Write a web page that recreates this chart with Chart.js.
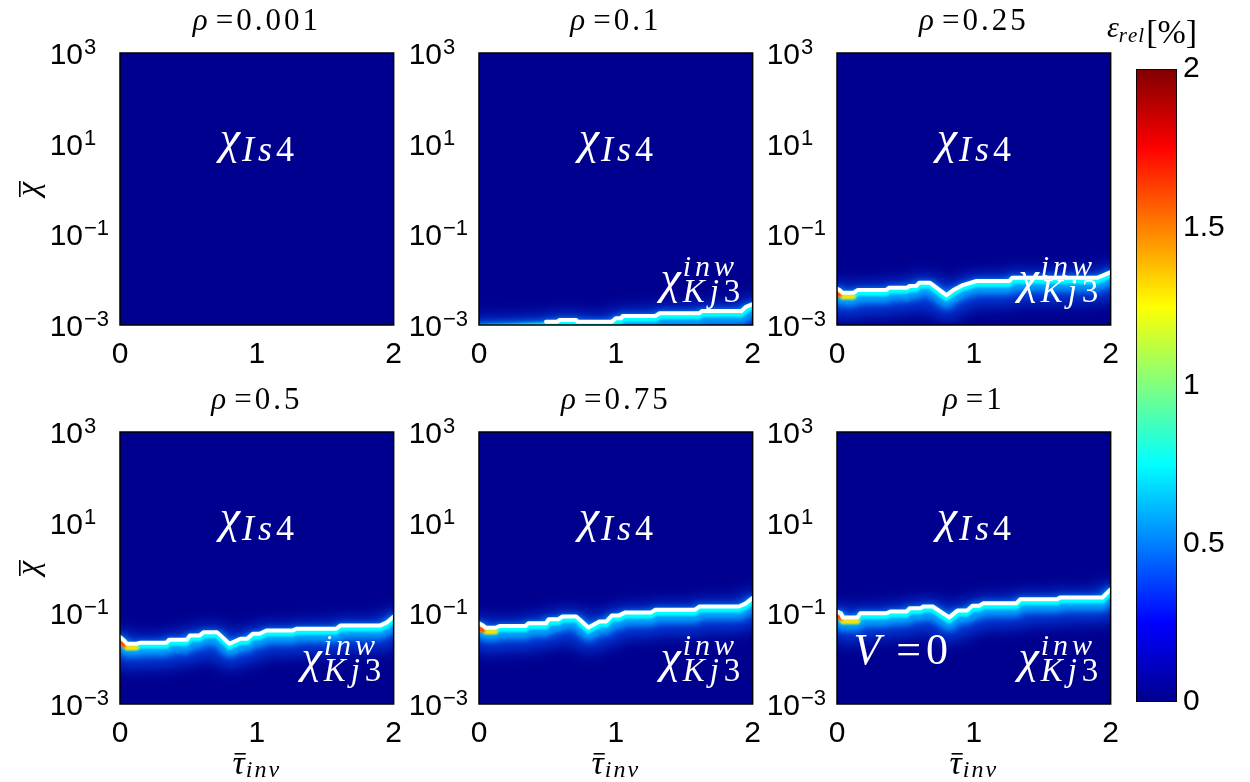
<!DOCTYPE html>
<html>
<head>
<meta charset="utf-8">
<script src="https://cdn.jsdelivr.net/npm/chart.js@4.4.1/dist/chart.umd.min.js"></script>
<style>
  html, body { margin: 0; padding: 0; background: #fff; width: 1250px; height: 782px; overflow: hidden; }
  canvas { position: absolute; }
</style>
</head>
<body>
<script>
// values
const rhoTitles = ["0.001", "0.1", "0.25", "0.5", "0.75", "1"];
const tauTicks = [0, 1, 2];
const chiTickExps = [3, 1, -1, -3];
const errTicks = [0, 0.5, 1, 1.5, 2];

// white boundary line of each panel: tau and log10(chi)
const rho01Tau = [0.49, 0.57, 0.59, 0.71, 0.72, 0.97, 1.00, 1.04, 1.05, 1.29, 1.32, 1.61, 1.63, 1.92, 1.95, 2.0];
const rho01LogChi = [-2.93, -2.93, -2.89, -2.89, -2.93, -2.93, -2.85, -2.85, -2.80, -2.80, -2.74, -2.74, -2.69, -2.69, -2.60, -2.54];
const rho01GlowTau = [0, 0.25, 0.49];
const rho01GlowLogChi = [-3.0, -2.98, -2.95];

const rho025Tau = [0.0, 0.02, 0.04, 0.12, 0.15, 0.36, 0.38, 0.51, 0.53, 0.58, 0.60, 0.68, 0.80, 0.85, 0.92, 1.02, 1.26, 1.28, 1.90, 1.95, 2.0];
const rho025LogChi = [-2.20, -2.23, -2.29, -2.29, -2.23, -2.23, -2.18, -2.18, -2.14, -2.14, -2.07, -2.07, -2.34, -2.23, -2.12, -2.03, -2.03, -1.96, -1.96, -1.90, -1.83];

const rho05Tau = [0.0, 0.03, 0.05, 0.12, 0.15, 0.34, 0.36, 0.49, 0.51, 0.58, 0.61, 0.71, 0.80, 0.88, 0.93, 0.97, 1.02, 1.07, 1.26, 1.29, 1.58, 1.61, 1.90, 1.95, 2.0];
const rho05LogChi = [-1.52, -1.60, -1.67, -1.67, -1.65, -1.65, -1.58, -1.58, -1.49, -1.49, -1.42, -1.42, -1.67, -1.56, -1.56, -1.45, -1.45, -1.38, -1.38, -1.34, -1.34, -1.27, -1.27, -1.20, -1.07];

const rho075Tau = [0.0, 0.03, 0.05, 0.12, 0.15, 0.34, 0.36, 0.49, 0.51, 0.58, 0.61, 0.71, 0.80, 0.88, 0.93, 0.97, 1.02, 1.07, 1.26, 1.29, 1.58, 1.61, 1.90, 1.95, 2.0];
const rho075LogChi = [-1.22, -1.27, -1.32, -1.32, -1.28, -1.28, -1.22, -1.22, -1.13, -1.13, -1.07, -1.07, -1.31, -1.18, -1.18, -1.05, -1.05, -0.98, -0.98, -0.92, -0.92, -0.85, -0.85, -0.78, -0.66];

const rho1Tau = [0.0, 0.03, 0.04, 0.15, 0.17, 0.36, 0.39, 0.51, 0.53, 0.61, 0.63, 0.70, 0.82, 0.88, 0.95, 0.99, 1.04, 1.07, 1.31, 1.34, 1.61, 1.63, 1.94, 2.0];
const rho1LogChi = [-0.96, -1.00, -1.09, -1.09, -1.00, -1.00, -0.96, -0.96, -0.89, -0.89, -0.85, -0.85, -1.09, -0.94, -0.94, -0.83, -0.83, -0.78, -0.78, -0.69, -0.69, -0.65, -0.65, -0.47];

const SERIF = '"Liberation Serif", "DejaVu Serif", serif';
const SANS = '"Liberation Sans", Arial, sans-serif';
const NAVY = "rgb(0,0,143)";

const panelLefts = [120, 479, 837];
const panelTops = [53, 432];
const PW = 274, PH = 272;
const ML = 120, MT = 53, MR = 20, MB = 80;

const panels = [
  { col: 0, row: 0, tau: null },
  { col: 1, row: 0, tau: rho01Tau, lg: rho01LogChi, glowTau: rho01GlowTau.concat(rho01Tau), glowLg: rho01GlowLogChi.concat(rho01LogChi), hot: 0 },
  { col: 2, row: 0, tau: rho025Tau, lg: rho025LogChi, hot: 4 },
  { col: 0, row: 1, tau: rho05Tau, lg: rho05LogChi, hot: 4 },
  { col: 1, row: 1, tau: rho075Tau, lg: rho075LogChi, hot: 4 },
  { col: 2, row: 1, tau: rho1Tau, lg: rho1LogChi, hot: 4, vLabel: true }
];

// ---- text helpers (mixed fonts, sub/superscripts) ----
function setFont(ctx, r) {
  ctx.font = (r.it ? "italic " : "") + r.size + "px " + (r.fam || SERIF);
}
function runWidth(ctx, r) {
  setFont(ctx, r);
  let w = 0;
  for (const ch of r.t) w += ctx.measureText(ch).width + (r.ls || 0);
  return w + (r.gap || 0);
}
function drawRun(ctx, r, x, y) {
  setFont(ctx, r);
  for (const ch of r.t) {
    ctx.fillText(ch, x, y + (r.dy || 0));
    x += ctx.measureText(ch).width + (r.ls || 0);
  }
  return x + (r.gap || 0);
}
function runsWidth(ctx, runs) {
  return runs.reduce((s, r) => s + runWidth(ctx, r), 0);
}
function drawRuns(ctx, runs, x, y, align) {
  const w = runsWidth(ctx, runs);
  let cx = align === "center" ? x - w / 2 : align === "right" ? x - w : x;
  ctx.textAlign = "left";
  ctx.textBaseline = "alphabetic";
  runs.forEach(r => { cx = drawRun(ctx, r, cx, y); });
  return w;
}

function pts(tau, lg) {
  return tau.map((t, i) => ({ x: t, y: Math.pow(10, lg[i]) }));
}

function makeDatasets(p) {
  if (!p.tau) return [];
  const line = pts(p.tau, p.lg);
  const glow = p.glowTau ? pts(p.glowTau, p.glowLg) : line;
  const base = { pointRadius: 0, tension: 0, clip: 0, fill: false, borderJoinStyle: "round", borderCapStyle: "round" };
  const sets = [
    Object.assign({}, base, { data: line, borderColor: "#ffffff", borderWidth: 4, order: 0 }),
    Object.assign({}, base, { data: glow, borderColor: "rgb(0,255,255)", borderWidth: 6, order: 3, glowShift: 3, blur: 1 }),
    Object.assign({}, base, { data: glow, borderColor: "rgba(0,175,255,0.9)", borderWidth: 14, order: 4, glowShift: 6, blur: 3 }),
    Object.assign({}, base, { data: glow, borderColor: "rgba(0,90,255,0.7)", borderWidth: 30, order: 5, glowShift: 9, blur: 8 })
  ];
  if (p.hot) {
    sets.push(Object.assign({}, base, { data: line.slice(0, p.hot), borderColor: "rgb(255,225,0)", borderWidth: 5, order: 2, glowShift: 4, blur: 1 }));
    sets.push(Object.assign({}, base, { data: line.slice(0, 2), borderColor: "rgb(255,60,0)", borderWidth: 4, order: 1, glowShift: 5, blur: 1 }));
  }
  return sets;
}

function panelPlugin(p, idx) {
  return {
    id: "panelDeco" + idx,
    beforeDatasetsDraw(chart) {
      const a = chart.chartArea, ctx = chart.ctx;
      ctx.save();
      ctx.fillStyle = NAVY;
      ctx.fillRect(a.left, a.top, a.right - a.left, a.bottom - a.top);
      ctx.restore();
    },
    beforeDatasetDraw(chart, args) {
      const ds = chart.data.datasets[args.index];
      if (ds.glowShift) {
        const a = chart.chartArea, ctx = chart.ctx;
        ctx.save();
        ctx.beginPath();
        ctx.rect(a.left, a.top, a.right - a.left, a.bottom - a.top);
        ctx.clip();
        ctx.translate(0, ds.glowShift);
        if (ds.blur) ctx.filter = "blur(" + ds.blur + "px)";
      }
    },
    afterDatasetDraw(chart, args) {
      if (chart.data.datasets[args.index].glowShift) chart.ctx.restore();
    },
    afterDatasetsDraw(chart) {
      const a = chart.chartArea, ctx = chart.ctx;
      const xs = chart.scales.x, ys = chart.scales.y;
      ctx.save();
      ctx.fillStyle = "#ffffff";
      // chi_Is4 label
      const cx = xs.getPixelForValue(1), cy = ys.getPixelForValue(10);
      drawRuns(ctx, [
        { t: "χ", size: 46, it: true, dy: 9, gap: 2 },
        { t: "Is", size: 36, it: true, dy: 17, ls: 4 },
        { t: "4", size: 36, dy: 17 }
      ], cx, cy, "center");
      // chi^inw_Kj3 label
      if (p.tau) {
        const xr = xs.getPixelForValue(1.91), yb = ys.getPixelForValue(Math.pow(10, -2.5));
        const chi = { t: "χ", size: 46, it: true, gap: 2 };
        const sup = [{ t: "inw", size: 30, it: true, ls: 4 }];
        const sub = [{ t: "Kj", size: 33, it: true, ls: 5 }, { t: "3", size: 33 }];
        const wc = runWidth(ctx, chi);
        const ws = Math.max(runsWidth(ctx, sup), runsWidth(ctx, sub));
        const x0 = xr - wc - ws;
        ctx.textAlign = "left";
        ctx.textBaseline = "alphabetic";
        drawRun(ctx, chi, x0, yb - 9);
        drawRuns(ctx, sup, x0 + wc, yb - 26, "left");
        drawRuns(ctx, sub, x0 + wc, yb, "left");
      }
      if (p.vLabel) {
        const vx = xs.getPixelForValue(0.12), vy = ys.getPixelForValue(Math.pow(10, -2.12));
        drawRuns(ctx, [
          { t: "V", size: 44, it: true, gap: 16 },
          { t: "=", size: 44, gap: 5 },
          { t: "0", size: 44 }
        ], vx, vy, "left");
      }
      // axes box
      ctx.strokeStyle = "#000";
      ctx.lineWidth = 1.5;
      ctx.strokeRect(a.left, a.top, a.right - a.left, a.bottom - a.top);
      ctx.restore();
    },
    afterDraw(chart) {
      const a = chart.chartArea, ctx = chart.ctx, ys = chart.scales.y;
      ctx.save();
      ctx.fillStyle = "#000";
      // title
      drawRuns(ctx, [
        { t: "ρ", size: 31, it: true, gap: 8 },
        { t: "=", size: 31, gap: 3 },
        { t: rhoTitles[idx], size: 31, ls: 3 }
      ], (a.left + a.right) / 2, a.top - 23, "center");
      // log tick labels 10^n
      chiTickExps.forEach(e => {
        const py = ys.getPixelForValue(Math.pow(10, e));
        ctx.font = "30px " + SANS;
        ctx.textAlign = "right";
        ctx.textBaseline = "alphabetic";
        ctx.fillText("10", a.left - 37, py + 11);
        ctx.font = "22px " + SANS;
        ctx.textAlign = "left";
        ctx.fillText(e < 0 ? "\u2212" + (-e) : String(e), a.left - 36, py + 1);
      });
      // y title on the left column
      if (p.col === 0) {
        ctx.save();
        ctx.translate(a.left - 82, (a.top + a.bottom) / 2);
        ctx.rotate(-Math.PI / 2);
        ctx.font = "italic 32px " + SERIF;
        ctx.textAlign = "center";
        ctx.fillText("χ", 0, 0);
        ctx.fillRect(-8, -19, 16, 1.6);
        ctx.restore();
      }
      // x title on the bottom row
      if (p.row === 1) {
        const mx = (a.left + a.right) / 2, by = a.bottom + 70;
        const tauRun = { t: "τ", size: 34, it: true, gap: 1 };
        const wt = runWidth(ctx, tauRun);
        const w = drawRuns(ctx, [tauRun, { t: "inv", size: 24, it: true, dy: 3, ls: 2 }], mx, by, "center");
        const x0 = mx - w / 2;
        ctx.fillRect(x0 + 2, by - 21, wt - 2, 1.6);
      }
      ctx.restore();
    }
  };
}

panels.forEach((p, idx) => {
  const cv = document.createElement("canvas");
  const w = ML + PW + MR, h = MT + PH + MB;
  cv.width = w; cv.height = h;
  cv.style.left = (panelLefts[p.col] - ML) + "px";
  cv.style.top = (panelTops[p.row] - MT) + "px";
  cv.style.width = w + "px"; cv.style.height = h + "px";
  document.body.appendChild(cv);

  new Chart(cv, {
    type: "line",
    data: { datasets: makeDatasets(p) },
    options: {
      responsive: false,
      animation: false,
      events: [],
      devicePixelRatio: 1,
      layout: { padding: { top: MT, right: MR, left: 0, bottom: 0 } },
      plugins: { legend: { display: false }, tooltip: { enabled: false }, title: { display: false } },
      scales: {
        x: {
          type: "linear", min: 0, max: 2,
          afterBuildTicks: s => { s.ticks = tauTicks.map(v => ({ value: v })); },
          afterFit: s => { s.height = MB; },
          grid: { display: false, drawTicks: false },
          border: { display: false },
          ticks: { color: "#000", font: { size: 30, family: SANS }, padding: 12, maxRotation: 0, callback: v => String(v) }
        },
        y: {
          type: "logarithmic", min: 1e-3, max: 1e3,
          afterFit: s => { s.width = ML; },
          grid: { display: false, drawTicks: false },
          border: { display: false },
          ticks: { display: false }
        }
      }
    },
    plugins: [panelPlugin(p, idx)]
  });
});

// ---- colorbar ----
const cb = document.createElement("canvas");
cb.width = 150; cb.height = 782;
cb.style.left = "1100px"; cb.style.top = "0px";
cb.style.width = "150px"; cb.style.height = "782px";
document.body.appendChild(cb);

function jetGradient(ctx) {
  const chart = ctx.chart, a = chart.chartArea;
  if (!a) return NAVY;
  const g = chart.ctx.createLinearGradient(0, a.bottom, 0, a.top);
  g.addColorStop(0, "rgb(0,0,143)");
  g.addColorStop(0.125, "rgb(0,0,255)");
  g.addColorStop(0.375, "rgb(0,255,255)");
  g.addColorStop(0.625, "rgb(255,255,0)");
  g.addColorStop(0.875, "rgb(255,0,0)");
  g.addColorStop(1, "rgb(128,0,0)");
  return g;
}

new Chart(cb, {
  type: "bar",
  data: {
    labels: ["err"],
    datasets: [{
      data: [[errTicks[0], errTicks[errTicks.length - 1]]],
      backgroundColor: jetGradient,
      borderColor: "#000",
      borderWidth: 1.2,
      borderSkipped: false,
      barPercentage: 1,
      categoryPercentage: 1
    }]
  },
  options: {
    responsive: false,
    animation: false,
    events: [],
    devicePixelRatio: 1,
    layout: { padding: { top: 69, left: 36, right: 0, bottom: 80 } },
    plugins: { legend: { display: false }, tooltip: { enabled: false } },
    scales: {
      x: { display: false },
      y: {
        position: "right", min: 0, max: 2,
        afterBuildTicks: s => { s.ticks = errTicks.map(v => ({ value: v })); },
        afterFit: s => { s.width = 73; },
        grid: { display: false, drawTicks: false },
        border: { display: false },
        ticks: { color: "#000", font: { size: 30, family: SANS }, padding: 6, callback: v => String(v) }
      }
    }
  },
  plugins: [{
    id: "cbTitle",
    afterDraw(chart) {
      const ctx = chart.ctx;
      ctx.save();
      ctx.fillStyle = "#000";
      let x = 7;
      ctx.textAlign = "left";
      ctx.textBaseline = "alphabetic";
      x = drawRun(ctx, { t: "ε", size: 30, it: true }, x, 37);
      x = drawRun(ctx, { t: "rel", size: 21, it: true, ls: 1 }, x, 42);
      drawRun(ctx, { t: "[%]", size: 34 }, x + 1, 43);
      ctx.restore();
    }
  }]
});
</script>
</body>
</html>
